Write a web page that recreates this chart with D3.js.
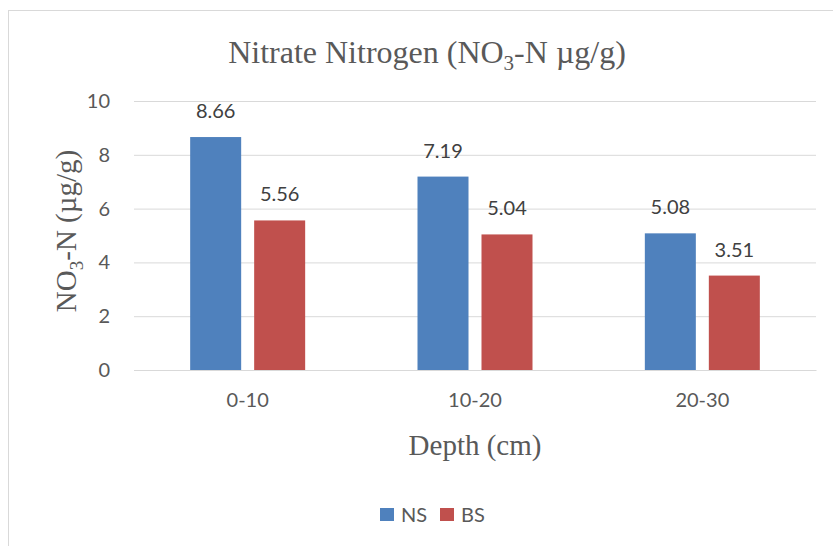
<!DOCTYPE html>
<html><head><meta charset="utf-8">
<script src="https://cdn.jsdelivr.net/npm/d3@7"></script>
<style>body{margin:0;background:#fff}svg{display:block}</style>
</head><body><svg id="c" width="833" height="546"></svg>
<script>
const categories = ["0-10", "10-20", "20-30"];
const seriesNames = ["NS", "BS"];
const nsValues = [8.66, 7.19, 5.08];
const bsValues = [5.56, 5.04, 3.51];
const yTicks = [0, 2, 4, 6, 8, 10];
const colors = ["#4f81bd", "#c0504d"];

(function () {
const svg = d3.select("#c");
const W = 833, H = 546;
const sans = "Lato, 'Open Sans', sans-serif";
const serif = "'Liberation Serif', 'Times New Roman', serif";
svg.append("rect").attr("x", 8.5).attr("y", 10.5).attr("width", W).attr("height", H)
  .attr("fill", "#fff").attr("stroke", "#d9d9d9").attr("stroke-width", 1);

const pl = 134, pr = 816, pt = 101, pb = 370;
const x = d3.scaleBand().domain(categories).range([pl, pr]);
const y = d3.scaleLinear().domain([0, 10]).range([pb, pt]);
const gOff = (x.bandwidth() - 115) / 2;
const inner = d3.scaleBand().domain(seriesNames).range([gOff, gOff + 115]).paddingInner(0.203);

// gridlines
svg.append("g").attr("transform", `translate(${pl},0)`)
  .call(d3.axisLeft(y).tickValues(yTicks).tickSize(-(pr - pl)).tickFormat(""))
  .call(g => g.select(".domain").remove())
  .call(g => g.selectAll("line").attr("stroke", "#d9d9d9"));

// y tick labels
svg.append("g").attr("transform", `translate(${pl},0)`)
  .call(d3.axisLeft(y).tickValues(yTicks).tickSize(0).tickPadding(24))
  .call(g => g.select(".domain").remove())
  .call(g => g.selectAll("text").attr("font-family", sans).attr("font-size", 20).attr("fill", "#595959"));

const data = categories.map((c, i) => ({ c, vals: [nsValues[i], bsValues[i]] }));
const groups = svg.append("g").selectAll("g").data(data).join("g")
  .attr("transform", d => `translate(${x(d.c)},0)`);
groups.selectAll("rect").data(d => d.vals.map((v, j) => ({ s: seriesNames[j], v, j })))
  .join("rect")
  .attr("x", d => inner(d.s)).attr("width", inner.bandwidth())
  .attr("y", d => y(d.v)).attr("height", d => y(0) - y(d.v))
  .attr("fill", d => colors[d.j]);
groups.selectAll("text.v").data(d => d.vals.map((v, j) => ({ s: seriesNames[j], v, j })))
  .join("text").attr("class", "v")
  .attr("x", d => inner(d.s) + inner.bandwidth() / 2)
  .attr("y", d => y(d.v) - 19)
  .attr("text-anchor", "middle")
  .attr("font-family", sans).attr("font-size", 20).attr("fill", "#404040")
  .text(d => d.v.toFixed(2));

// x axis
svg.append("g").attr("transform", `translate(0,${pb})`)
  .call(d3.axisBottom(x).tickSize(0).tickPadding(23))
  .call(g => g.select(".domain").attr("stroke", "#d9d9d9"))
  .call(g => g.selectAll("text").attr("font-family", sans).attr("font-size", 20).attr("fill", "#595959"));

// title
const t = svg.append("text").attr("x", 427).attr("y", 63).attr("text-anchor", "middle")
  .attr("font-family", serif).attr("font-size", 32).attr("fill", "#595959");
t.append("tspan").text("Nitrate Nitrogen (NO");
t.append("tspan").attr("font-size", 21).attr("dy", 7).text("3");
t.append("tspan").attr("dy", -7).text("-N µg/g)");

// y axis title
const yt = svg.append("text").attr("transform", "translate(76,231) rotate(-90)").attr("text-anchor", "middle")
  .attr("font-family", serif).attr("font-size", 29).attr("fill", "#595959");
yt.append("tspan").text("NO");
yt.append("tspan").attr("font-size", 19).attr("dy", 7).text("3");
yt.append("tspan").attr("dy", -7).text("-N (µg/g)");

// x axis title
svg.append("text").attr("x", 475).attr("y", 455).attr("text-anchor", "middle")
  .attr("font-family", serif).attr("font-size", 29).attr("fill", "#595959")
  .text("Depth (cm)");

// legend
const lg = svg.append("g").selectAll("g").data(seriesNames).join("g")
  .attr("transform", (d, i) => `translate(${380 + i * 60},508)`);
lg.append("rect").attr("width", 14).attr("height", 13).attr("fill", (d, i) => colors[i]);
lg.append("text").attr("x", 21).attr("y", 14)
  .attr("font-family", sans).attr("font-size", 20).attr("fill", "#595959").text(d => d);
})();
</script></body></html>
